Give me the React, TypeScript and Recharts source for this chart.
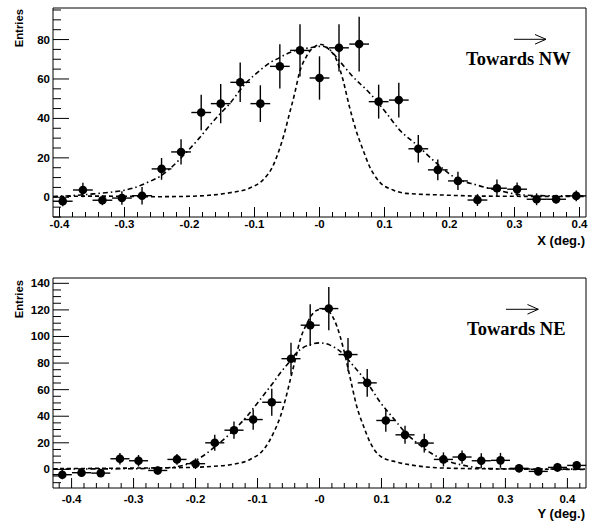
import React from 'react';
import { ComposedChart, Scatter, Line, XAxis, YAxis, ErrorBar, ReferenceArea } from 'recharts';

// ---------- Top panel (X direction, towards NW) ----------
const binXTop = [-0.395, -0.364, -0.334, -0.304, -0.273, -0.243, -0.213, -0.182, -0.152, -0.122, -0.091, -0.061, -0.030, 0.000, 0.030, 0.061, 0.091, 0.122, 0.152, 0.182, 0.213, 0.243, 0.273, 0.304, 0.334, 0.364, 0.395];
const entriesTop = [-2.0, 3.7, -1.5, -0.4, 0.8, 14.4, 23.0, 43.0, 47.5, 58.3, 47.5, 66.4, 74.5, 60.5, 75.8, 77.7, 48.5, 49.3, 24.6, 13.9, 8.3, -1.4, 4.6, 4.1, -1.0, -1.0, 0.7];
const errTop = [2.5, 3.7, 2.5, 3.4, 4.4, 5.5, 6.4, 9.0, 10.0, 10.0, 9.3, 11.2, 13.2, 11.0, 12.0, 13.9, 8.6, 8.8, 7.0, 5.3, 4.6, 3.0, 4.4, 3.4, 3.0, 2.3, 2.7];
const halfBinTop = 0.0152;

// PSF-like narrow curve (dashed)
const psfTopX = [-0.41, -0.35, -0.30, -0.25, -0.20, -0.17, -0.138, -0.108, -0.087, -0.072, -0.062, -0.054, -0.046, -0.038, -0.031, -0.020, -0.008, 0.003, 0.015, 0.026, 0.036, 0.046, 0.056, 0.067, 0.077, 0.092, 0.113, 0.133, 0.185, 0.25, 0.30, 0.41];
const psfTopY = [0.3, 0.6, 0.5, 0.3, 0.5, 1.0, 2.3, 4.6, 8.8, 15.6, 24.0, 32.5, 42.7, 52.9, 63.0, 71.5, 76.3, 77.5, 74.9, 69.8, 59.7, 46.0, 34.2, 24.0, 15.6, 7.9, 3.7, 2.0, 1.2, 0.6, 0.5, 0.4];
// broad fit curve (dash-dot)
const fitTopX = [-0.41, -0.374, -0.345, -0.323, -0.30, -0.287, -0.265, -0.246, -0.23, -0.215, -0.20, -0.185, -0.17, -0.154, -0.138, -0.123, -0.113, -0.10, -0.087, -0.075, -0.062, -0.05, -0.036, -0.015, 0.005, 0.015, 0.031, 0.051, 0.077, 0.103, 0.123, 0.15, 0.18, 0.21, 0.241, 0.272, 0.313, 0.35, 0.41];
const fitTopY = [0.4, 1.0, 1.8, 2.5, 3.6, 4.6, 7.5, 10.5, 14.5, 19.3, 24.5, 30.0, 36.0, 42.0, 47.5, 54.0, 58.0, 62.0, 65.6, 68.5, 70.7, 72.8, 74.6, 75.8, 76.6, 75.0, 69.0, 61.3, 52.9, 42.7, 34.2, 26.5, 17.3, 9.7, 6.3, 3.7, 1.2, 0.8, 0.8];

const xDomainTop: [number, number] = [-0.41, 0.41];
const yDomainTop: [number, number] = [-10, 96];
const xMajorTop = [-0.4, -0.3, -0.2, -0.1, 0, 0.1, 0.2, 0.3, 0.4];
const xLabelsTop = ['-0.4', '-0.3', '-0.2', '-0.1', '-0', '0.1', '0.2', '0.3', '0.4'];
const yMajorTop = [0, 20, 40, 60, 80];
const yLabelsTop = ['0', '20', '40', '60', '80'];
const yMinorStepTop = 5;
const yMinorRangeTop: [number, number] = [-10, 95];

// ---------- Bottom panel (Y direction, towards NE) ----------
const binXBot = [-0.415, -0.384, -0.353, -0.322, -0.292, -0.261, -0.230, -0.200, -0.169, -0.138, -0.107, -0.077, -0.046, -0.015, 0.015, 0.046, 0.077, 0.107, 0.138, 0.169, 0.200, 0.230, 0.261, 0.292, 0.322, 0.353, 0.384, 0.415];
const entriesBot = [-4.0, -2.5, -2.8, 8.0, 6.5, -0.8, 7.5, 4.3, 20.0, 29.5, 37.5, 50.5, 83.3, 108.5, 121.0, 86.4, 65.1, 36.8, 26.0, 19.8, 7.5, 9.3, 6.5, 6.8, 0.8, -1.5, 1.5, 3.0];
const errBot = [3.5, 3.0, 3.0, 4.4, 4.3, 3.0, 4.0, 4.0, 6.0, 6.5, 7.6, 10.2, 11.9, 15.7, 16.3, 12.5, 10.5, 8.5, 6.8, 7.0, 5.3, 5.0, 5.6, 5.6, 3.0, 3.0, 3.4, 3.4];
const halfBinBot = 0.0154;

const psfBotX = [-0.43, -0.35, -0.30, -0.25, -0.20, -0.17, -0.144, -0.112, -0.09, -0.074, -0.063, -0.055, -0.047, -0.039, -0.031, -0.020, -0.007, 0.006, 0.017, 0.028, 0.039, 0.050, 0.060, 0.071, 0.082, 0.098, 0.125, 0.152, 0.20, 0.30, 0.43];
const psfBotY = [0.5, 0.8, 1.0, 1.2, 1.6, 2.4, 3.5, 7.5, 15.0, 27.6, 40.0, 52.6, 67.7, 82.7, 97.7, 110.0, 119.0, 120.8, 117.8, 107.8, 90.2, 67.7, 47.6, 32.6, 20.0, 10.0, 5.5, 3.0, 1.0, 0.3, 0.0];
const fitBotX = [-0.43, -0.30, -0.27, -0.24, -0.21, -0.19, -0.165, -0.144, -0.117, -0.10, -0.09, -0.075, -0.063, -0.05, -0.037, -0.015, 0.001, 0.017, 0.033, 0.055, 0.077, 0.098, 0.12, 0.138, 0.152, 0.179, 0.206, 0.233, 0.26, 0.30, 0.43];
const fitBotY = [0.3, 0.5, 0.8, 1.5, 4.5, 9.5, 18.5, 27.0, 40.0, 50.0, 56.0, 65.0, 72.7, 80.0, 87.7, 94.0, 95.2, 93.5, 89.0, 77.7, 65.2, 50.5, 38.0, 28.0, 22.0, 12.5, 6.3, 3.0, 1.0, 0.4, 0.2];

const xDomainBot: [number, number] = [-0.43, 0.43];
const yDomainBot: [number, number] = [-14, 144];
const xMajorBot = [-0.4, -0.3, -0.2, -0.1, 0, 0.1, 0.2, 0.3, 0.4];
const xLabelsBot = ['-0.4', '-0.3', '-0.2', '-0.1', '-0', '0.1', '0.2', '0.3', '0.4'];
const yMajorBot = [0, 20, 40, 60, 80, 100, 120, 140];
const yLabelsBot = ['0', '20', '40', '60', '80', '100', '120', '140'];
const yMinorStepBot = 5;
const yMinorRangeBot: [number, number] = [-10, 140];

// ---------- helpers ----------
const SANS = '"Liberation Sans", Arial, Helvetica, sans-serif';
const SERIF = '"Liberation Serif", "Times New Roman", serif';
const TICK_FONT = 11.5;

const round = (v: number) => Math.round(v * 1000) / 1000;

// minor tick positions (axis decoration only): subdivide each major interval
function subdivide(majors: number[], n: number, lo: number, hi: number): number[] {
  const step = (majors[1] - majors[0]) / n;
  const out: number[] = [];
  const start = majors[0] - Math.floor((majors[0] - lo) / step + 1e-9) * step;
  for (let v = start; v <= hi + 1e-9; v += step) out.push(round(v));
  return out;
}
function stepTicks(step: number, range: [number, number]): number[] {
  const out: number[] = [];
  for (let v = range[0]; v <= range[1] + 1e-9; v += step) out.push(round(v));
  return out;
}

const pointsOf = (xs: number[], ys: number[], es: number[], hb: number) =>
  xs.map((x, i) => ({ x, y: ys[i], ey: es[i], ex: hb }));
const curveOf = (xs: number[], ys: number[]) => xs.map((x, i) => ({ x, y: ys[i] }));

const findLabel = (v: number, majors: number[], labels: string[]) => {
  const i = majors.findIndex((m) => Math.abs(m - v) < 1e-6);
  return i >= 0 ? labels[i] : null;
};

const makeXTick = (majors: number[], labels: string[], labelDy: number) => (props: any) => {
  const { x, y, payload } = props;
  const label = findLabel(payload.value, majors, labels);
  const len = label !== null ? 10 : 5;
  return (
    <g>
      <line x1={x} x2={x} y1={y} y2={y - len} stroke="#000" strokeWidth={1} />
      {label !== null && (
        <text x={x} y={y + labelDy} textAnchor="middle" fontFamily={SANS} fontWeight="bold" fontSize={TICK_FONT} fill="#000">
          {label}
        </text>
      )}
    </g>
  );
};

const makeYTick = (majors: number[], labels: string[]) => (props: any) => {
  const { x, y, payload } = props;
  const label = findLabel(payload.value, majors, labels);
  const len = label !== null ? 16 : 8;
  return (
    <g>
      <line x1={x} x2={x + len} y1={y} y2={y} stroke="#000" strokeWidth={1} />
      {label !== null && (
        <text x={x - 3} y={y + 4} textAnchor="end" fontFamily={SANS} fontWeight="bold" fontSize={TICK_FONT} fill="#000">
          {label}
        </text>
      )}
    </g>
  );
};

const Marker = (p: any) => <circle cx={p.cx} cy={p.cy} r={4.3} fill="#000" />;

interface PanelProps {
  points: { x: number; y: number; ey: number; ex: number }[];
  psf: { x: number; y: number }[];
  fit: { x: number; y: number }[];
  xDomain: [number, number];
  yDomain: [number, number];
  xTicks: number[];
  yTicks: number[];
  xTick: any;
  yTick: any;
  height: number;
  marginTop: number;
  xAxisHeight: number;
}

function Panel(p: PanelProps) {
  return (
    <ComposedChart width={593} height={p.height} margin={{ top: p.marginTop, right: 7, bottom: 0, left: 0 }}>
      <XAxis
        type="number"
        dataKey="x"
        domain={p.xDomain}
        ticks={p.xTicks}
        interval={0}
        allowDataOverflow
        tick={p.xTick}
        tickLine={false}
        axisLine={false}
        tickSize={0}
        tickMargin={0}
        height={p.xAxisHeight}
      />
      <YAxis
        type="number"
        domain={p.yDomain}
        ticks={p.yTicks}
        interval={0}
        allowDataOverflow
        tick={p.yTick}
        tickLine={false}
        axisLine={false}
        tickSize={0}
        tickMargin={0}
        width={53}
      />
      <ReferenceArea x1={p.xDomain[0]} x2={p.xDomain[1]} y1={p.yDomain[0]} y2={p.yDomain[1]} fill="none" stroke="#000" strokeWidth={1} />
      <Line data={p.psf} dataKey="y" type="monotone" stroke="#000" strokeWidth={1.6} strokeDasharray="4 3" dot={false} isAnimationActive={false} />
      <Line data={p.fit} dataKey="y" type="monotone" stroke="#000" strokeWidth={1.6} strokeDasharray="5 3 1.5 3" dot={false} isAnimationActive={false} />
      <Scatter data={p.points} dataKey="y" shape={Marker} isAnimationActive={false}>
        <ErrorBar dataKey="ey" direction="y" width={0} stroke="#000" strokeWidth={1.4} />
        <ErrorBar dataKey="ex" direction="x" width={0} stroke="#000" strokeWidth={1.4} />
      </Scatter>
    </ComposedChart>
  );
}

const topPoints = pointsOf(binXTop, entriesTop, errTop, halfBinTop);
const botPoints = pointsOf(binXBot, entriesBot, errBot, halfBinBot);

export default function App() {
  return (
    <div style={{ position: 'absolute', left: 0, top: 0, width: 593, height: 522, background: '#fff' }}>
      <div style={{ position: 'absolute', left: 0, top: 0 }}>
        <Panel
          points={topPoints}
          psf={curveOf(psfTopX, psfTopY)}
          fit={curveOf(fitTopX, fitTopY)}
          xDomain={xDomainTop}
          yDomain={yDomainTop}
          xTicks={subdivide(xMajorTop, 5, -0.4, 0.4)}
          yTicks={stepTicks(yMinorStepTop, yMinorRangeTop)}
          xTick={makeXTick(xMajorTop, xLabelsTop, 10.5)}
          yTick={makeYTick(yMajorTop, yLabelsTop)}
          height={260}
          marginTop={8}
          xAxisHeight={43}
        />
      </div>
      <div style={{ position: 'absolute', left: 0, top: 260 }}>
        <Panel
          points={botPoints}
          psf={curveOf(psfBotX, psfBotY)}
          fit={curveOf(fitBotX, fitBotY)}
          xDomain={xDomainBot}
          yDomain={yDomainBot}
          xTicks={subdivide(xMajorBot, 5, -0.42, 0.42)}
          yTicks={stepTicks(yMinorStepBot, yMinorRangeBot)}
          xTick={makeXTick(xMajorBot, xLabelsBot, 14.5)}
          yTick={makeYTick(yMajorBot, yLabelsBot)}
          height={262}
          marginTop={18}
          xAxisHeight={34}
        />
      </div>
      <svg width={593} height={522} style={{ position: 'absolute', left: 0, top: 0, pointerEvents: 'none' }}>
        <text transform="translate(23,9) rotate(-90)" textAnchor="end" fontFamily={SANS} fontWeight="bold" fontSize={11.3} fill="#000">Entries</text>
        <text transform="translate(23,280) rotate(-90)" textAnchor="end" fontFamily={SANS} fontWeight="bold" fontSize={11.3} fill="#000">Entries</text>
        <text x={585} y={244.5} textAnchor="end" fontFamily={SANS} fontWeight="bold" fontSize={13} fill="#000">X (deg.)</text>
        <text x={585} y={518} textAnchor="end" fontFamily={SANS} fontWeight="bold" fontSize={13} fill="#000">Y (deg.)</text>
        <text x={466} y={64.5} fontFamily={SERIF} fontWeight="bold" fontSize={18.5} fill="#000">Towards NW</text>
        <text x={467} y={334.5} fontFamily={SERIF} fontWeight="bold" fontSize={18.5} fill="#000">Towards NE</text>
        <g stroke="#000" strokeWidth={1} fill="none">
          <line x1={514} y1={39.3} x2={546} y2={39.3} />
          <polyline points="535,34.5 546,39.3 535,44.1" />
          <line x1={506} y1={309.3} x2={538.3} y2={309.3} />
          <polyline points="527.5,304.5 538.3,309.3 527.5,314.1" />
        </g>
      </svg>
    </div>
  );
}
